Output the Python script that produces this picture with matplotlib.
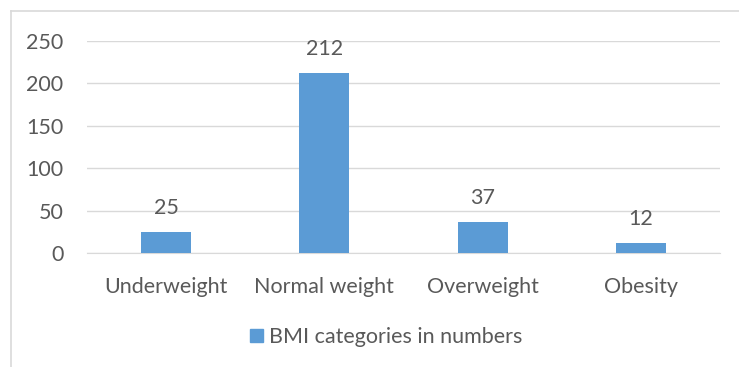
import matplotlib
matplotlib.use("Agg")
import matplotlib.pyplot as plt
from matplotlib.lines import Line2D
from matplotlib.patches import Patch

categories = ["Underweight", "Normal weight", "Overweight", "Obesity"]
values = [25, 212, 37, 12]
series_name = "BMI categories in numbers"
yticks = [0, 50, 100, 150, 200, 250]

W, H = 739, 367
fig = plt.figure(figsize=(W / 100, H / 100), dpi=100)
plt.rcParams['font.family'] = ['Lato', 'DejaVu Sans']
txt = '#595959'
bar_color = '#5B9BD5'
fs = 15.5

# axes in pixels: left 87, right 720, y0 at 253, y250 at 41
ax_left, ax_right = 87, 720
y_bottom, y_top = 253, 41
ax = fig.add_axes([ax_left / W, 1 - y_bottom / H, (ax_right - ax_left) / W, (y_bottom - y_top) / H])

x = list(range(len(categories)))
bars = ax.bar(x, values, width=0.315, color=bar_color, zorder=3, label=series_name)
ax.set_xlim(-0.5, len(categories) - 0.5)
ax.set_ylim(0, 250)
ax.set_yticks(yticks)
ax.set_yticklabels([str(t) for t in yticks])
ax.set_xticks(x)
ax.set_xticklabels(categories)
ax.grid(axis='y', color='#D9D9D9', linewidth=1, zorder=0)
for s in ['top', 'right', 'left']:
    ax.spines[s].set_visible(False)
ax.spines['bottom'].set_color('#D9D9D9')
ax.tick_params(axis='both', length=0, labelsize=fs, colors=txt)
ax.tick_params(axis='y', pad=17)
ax.tick_params(axis='x', pad=17)

for b, v in zip(bars, values):
    ax.annotate(str(v), (b.get_x() + b.get_width() / 2, v), xytext=(0, 10),
                textcoords='offset points', ha='center', va='bottom',
                fontsize=fs, color=txt)

leg = fig.legend(handles=[Patch(color=bar_color, label=series_name)],
                 loc='center', bbox_to_anchor=(386 / W, 1 - 337 / H),
                 frameon=False, fontsize=fs, handlelength=0.6, handleheight=0.6,
                 handletextpad=0.3, labelcolor=txt)

# chart area border (left and top edges)
fig.add_artist(Line2D([10.5 / W, 10.5 / W], [0, 1 - 10.5 / H], transform=fig.transFigure,
                      color='#D9D9D9', linewidth=1.2))
fig.add_artist(Line2D([10.5 / W, 1], [1 - 10.5 / H, 1 - 10.5 / H], transform=fig.transFigure,
                      color='#D9D9D9', linewidth=1.2))

fig.savefig("out.png", dpi=100)
